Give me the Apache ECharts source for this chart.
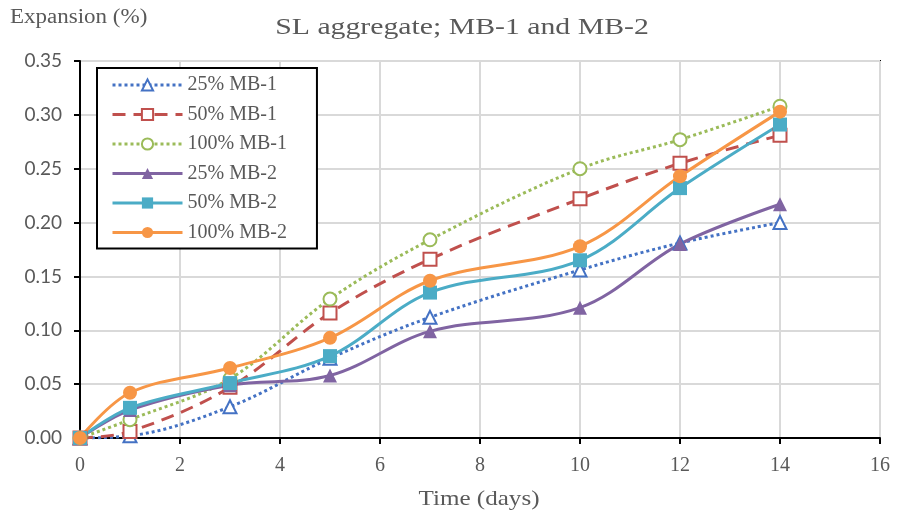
<!DOCTYPE html>
<html><head><meta charset="utf-8">
<script src="https://cdn.jsdelivr.net/npm/echarts@6/dist/echarts.min.js"></script>
<style>html,body{margin:0;padding:0;background:#fff}#c{width:897px;height:519px}</style>
</head><body><div id="c"></div>
<script>
const days = [0, 1, 3, 5, 7, 10, 12, 14];
const mb1_25 = [0, 0.002, 0.029, 0.074, 0.112, 0.156, 0.181, 0.200];
const mb1_50 = [0, 0.006, 0.047, 0.116, 0.166, 0.222, 0.255, 0.281];
const mb1_100 = [0, 0.017, 0.055, 0.129, 0.184, 0.250, 0.277, 0.308];
const mb2_25 = [0, 0.026, 0.049, 0.058, 0.099, 0.121, 0.180, 0.217];
const mb2_50 = [0, 0.028, 0.051, 0.076, 0.135, 0.165, 0.232, 0.291];
const mb2_100 = [0, 0.042, 0.065, 0.093, 0.146, 0.178, 0.243, 0.303];
const yTicks = ['0.00','0.05','0.10','0.15','0.20','0.25','0.30','0.35'];
const titleText = 'SL aggregate; MB-1 and MB-2';
const yName = 'Expansion (%)';
const xName = 'Time (days)';

const serif = 'Liberation Serif';
const gray = '#595959';
function pts(v){ return days.map((d,i)=>[d, v[i]]); }
function ser(name, vals, color, symbol, open, lineType, size){
  return {
    name, type:'line', data: pts(vals), smooth: 0.35,
    symbol, symbolSize: size,
    lineStyle:{color, width: 3, type: lineType},
    itemStyle: open ? {color:'#fff', borderColor:color, borderWidth:2} : {color, borderColor:color, borderWidth:0},
    emphasis:{disabled:true}
  };
}
const chart = echarts.init(document.getElementById('c'));
chart.setOption({
  animation:false,
  backgroundColor:'#fff',
  graphic:[
    {type:'text', x:462, y:28, scaleX:1.24, style:{text:titleText, font:'24px "Liberation Serif"', fill:gray, align:'center', verticalAlign:'middle'}},
    {type:'text', x:10, y:18, scaleX:1.15, style:{text:yName, font:'20px "Liberation Serif"', fill:gray, align:'left', verticalAlign:'middle'}},
    {type:'text', x:479, y:499, scaleX:1.14, style:{text:xName, font:'22px "Liberation Serif"', fill:gray, align:'center', verticalAlign:'middle'}}
  ],
  grid:{left:80, right:17, top:61, bottom:81, show:true, borderColor:'#000', borderWidth:2},
  legend:{
    left:97, top:68, orient:'vertical', itemGap:9.5, itemWidth:70, itemHeight:14,
    padding:[7,30,6,14], borderColor:'#000', borderWidth:2, backgroundColor:'#fff',
    lineStyle:{width:3},
    textStyle:{fontFamily:serif, fontSize:20, lineHeight:20, color:gray},
    data:['25% MB-1','50% MB-1','100% MB-1','25% MB-2','50% MB-2','100% MB-2']
  },
  xAxis:{type:'value', min:0, max:16, interval:2,
    axisLine:{lineStyle:{color:'#000', width:2}},
    axisTick:{show:true, length:6, lineStyle:{color:'#000', width:2}},
    axisLabel:{fontFamily:serif, fontSize:20, color:gray, margin:18},
    splitLine:{show:true, lineStyle:{color:'#d9d9d9', width:2}}
  },
  yAxis:{type:'value', min:0, max:0.35, interval:0.05,
    axisLine:{show:true, lineStyle:{color:'#000', width:2}},
    axisTick:{show:true, length:6, lineStyle:{color:'#000', width:2}},
    axisLabel:{fontFamily:'Lato', fontSize:19, color:gray, margin:18,
      formatter:(v)=>yTicks[Math.round(v/0.05)]},
    splitLine:{show:true, lineStyle:{color:'#d9d9d9', width:2}}
  },
  series:[
    ser('25% MB-1', mb1_25, '#4472C4', 'triangle', true, [3,3], 13),
    ser('50% MB-1', mb1_50, '#C0504D', 'rect', true, [13,8], 13),
    ser('100% MB-1', mb1_100, '#9BBB59', 'circle', true, [3,3], 13),
    ser('25% MB-2', mb2_25, '#8064A2', 'triangle', false, 'solid', 14),
    ser('50% MB-2', mb2_50, '#4BACC6', 'rect', false, 'solid', 14),
    ser('100% MB-2', mb2_100, '#F79646', 'circle', false, 'solid', 14)
  ]
});
</script></body></html>
